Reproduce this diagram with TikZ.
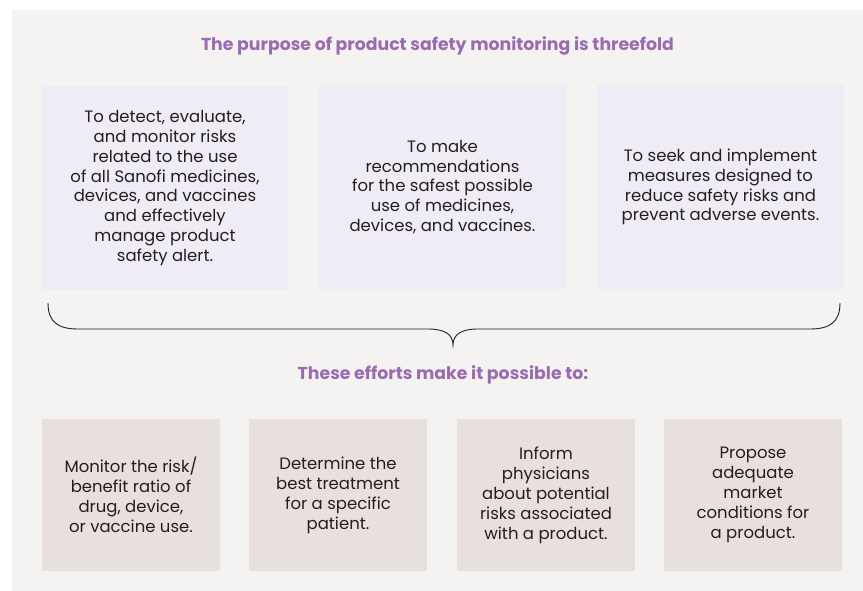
\documentclass[tikz,border=0pt]{standalone}
\usepackage{fontspec}
\setmainfont{Poppins}
\definecolor{bgc}{HTML}{F5F3F2}
\definecolor{lav}{HTML}{EFECF6}
\definecolor{rose}{HTML}{E8E0DF}
\definecolor{purp}{HTML}{9B6BAF}
\definecolor{ink}{HTML}{231F20}
\begin{document}
\begin{tikzpicture}[x=1pt,y=-1pt,
  topbox/.style={fill=lav, draw=none, minimum width=247pt, minimum height=204pt, align=center, text=ink, inner sep=0pt,
     font=\fontsize{16.5}{19.8}\selectfont},
  botbox/.style={fill=rose, draw=none, minimum width=178pt, minimum height=152pt, align=center, text=ink, inner sep=0pt,
     font=\fontsize{16.5}{20}\selectfont},
  heading/.style={text=purp, font=\fontsize{17.3}{20}\selectfont\bfseries, inner sep=0pt}]
\useasboundingbox (0,0) rectangle (863,591);
\fill[bgc] (12,10) rectangle (863,591);
\node[heading] (h1) at (437.5,46) {The purpose of product safety monitoring is threefold};
\node[topbox, minimum width=246pt] (t1) at (165,188) {To detect, evaluate,\\and monitor risks\\related to the use\\of all Sanofi medicines,\\devices, and vaccines\\and effectively\\manage product\\safety alert.};
\node[topbox] (t2) at (442.5,187) {To make\\recommendations\\for the safest possible\\use of medicines,\\devices, and vaccines.};
\node[topbox] (t3) at (720.5,187) {To seek and implement\\measures designed to\\reduce safety risks and\\prevent adverse events.};
\draw[ink, line width=0.9pt] (48,303) .. controls (48,322) and (58,329) .. (78,329)
  -- (428,329) .. controls (444,329) and (453,334) .. (453,345)
  .. controls (453,334) and (462,329) .. (478,329)
  -- (810,329) .. controls (830,329) and (840,322) .. (840,303);
\node[heading] (h2) at (443,375) {These efforts make it possible to:};
\node[botbox] (b1) at (131,495) {Monitor the risk/\\benefit ratio of\\drug, device,\\or vaccine use.};
\node[botbox] (b2) at (338,495) {Determine the\\best treatment\\for a specific\\patient.};
\node[botbox] (b3) at (546,495) {Inform\\physicians\\about potential\\risks associated\\with a product.};
\node[botbox] (b4) at (753,495) {Propose\\adequate\\market\\conditions for\\a product.};
\end{tikzpicture}
\end{document}
